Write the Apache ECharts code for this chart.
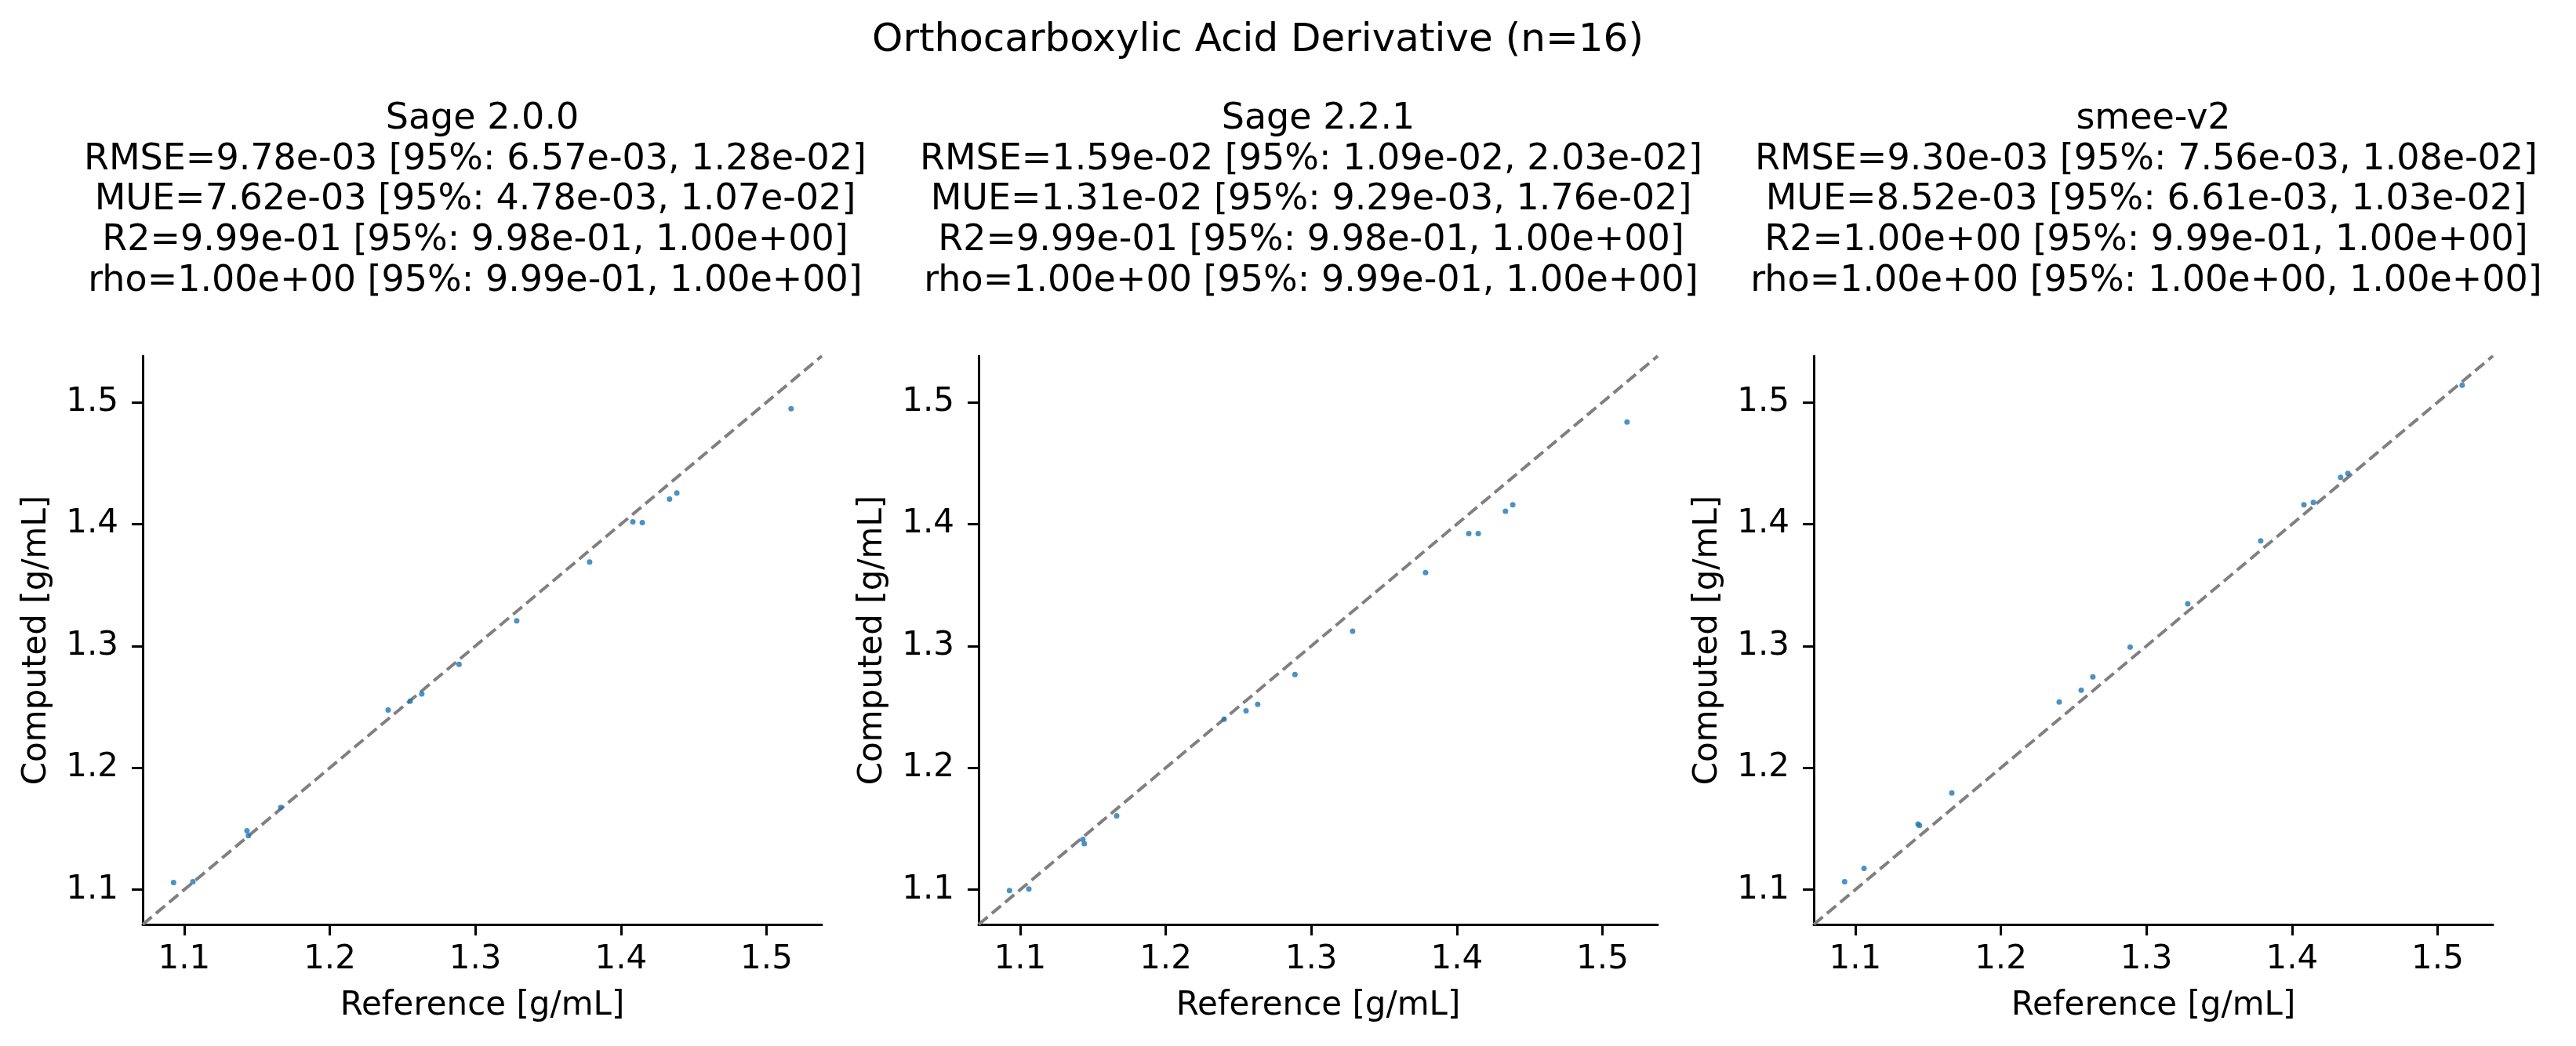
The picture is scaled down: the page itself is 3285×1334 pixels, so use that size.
<!DOCTYPE html>
<html>
<head>
<meta charset="utf-8">
<script src="https://cdn.jsdelivr.net/npm/echarts@6/dist/echarts.min.js"></script>
<style>
  body { margin: 0; background: #fff; }
  #main { width: 3285px; height: 1334px; }
</style>
</head>
<body>
<div id="main"></div>
<script>
// reference densities (same for all panels)
var reference = [1.0927, 1.1060, 1.1431, 1.1441, 1.1663, 1.2401, 1.2552, 1.2632,
  1.2888, 1.3284, 1.3785, 1.4082, 1.4147, 1.4334, 1.4384, 1.5169];
// computed densities per force field
var sage200 = [1.1060, 1.1066, 1.1484, 1.1444, 1.1675, 1.2475, 1.2547, 1.2606,
  1.2850, 1.3206, 1.3690, 1.4019, 1.4013, 1.4206, 1.4256, 1.4947];
var sage221 = [1.0994, 1.1006, 1.1413, 1.1378, 1.1606, 1.2400, 1.2469, 1.2522,
  1.2766, 1.3122, 1.3603, 1.3922, 1.3922, 1.4106, 1.4159, 1.4838];
var smeeV2 = [1.1066, 1.1175, 1.1538, 1.1528, 1.1794, 1.2541, 1.2638, 1.2747,
  1.2991, 1.3347, 1.3863, 1.4159, 1.4178, 1.4384, 1.4416, 1.5141];

var tickValues = [1.1, 1.2, 1.3, 1.4, 1.5];
var axisMin = 1.0715;
var axisMax = 1.538;

var suptitle = "Orthocarboxylic Acid Derivative (n=16)";
var panelNames = ["Sage 2.0.0", "Sage 2.2.1", "smee-v2"];
var panelStats = [
  "RMSE=9.78e-03 [95%: 6.57e-03, 1.28e-02]\nMUE=7.62e-03 [95%: 4.78e-03, 1.07e-02]\nR2=9.99e-01 [95%: 9.98e-01, 1.00e+00]\nrho=1.00e+00 [95%: 9.99e-01, 1.00e+00]",
  "RMSE=1.59e-02 [95%: 1.09e-02, 2.03e-02]\nMUE=1.31e-02 [95%: 9.29e-03, 1.76e-02]\nR2=9.99e-01 [95%: 9.98e-01, 1.00e+00]\nrho=1.00e+00 [95%: 9.99e-01, 1.00e+00]",
  "RMSE=9.30e-03 [95%: 7.56e-03, 1.08e-02]\nMUE=8.52e-03 [95%: 6.61e-03, 1.03e-02]\nR2=1.00e+00 [95%: 9.99e-01, 1.00e+00]\nrho=1.00e+00 [95%: 1.00e+00, 1.00e+00]"
];
var panelData = [sage200, sage221, smeeV2];

var FONT = "DejaVu Sans";
var panelLeft = [182, 1248, 2313];
var panelW = 866;
var panelTop = 454;
var panelH = 725;
var titleLine = 51.7;

var chart = echarts.init(document.getElementById("main"));

var grids = [], xAxes = [], yAxes = [], series = [], graphics = [];

function axisCommon(name) {
  return {
    type: "value",
    min: axisMin,
    max: axisMax,
    name: name,
    nameLocation: "middle",
    nameTextStyle: { fontFamily: FONT, fontSize: 42, color: "#000" },
    splitLine: { show: false },
    axisLine: { show: true, lineStyle: { color: "#000", width: 3 } },
    axisTick: {
      show: true, length: 14, inside: false,
      customValues: tickValues,
      lineStyle: { color: "#000", width: 3 }
    },
    axisLabel: {
      show: true,
      customValues: tickValues,
      fontFamily: FONT, fontSize: 42, color: "#000",
      formatter: function (v) { return v.toFixed(1); }
    }
  };
}

for (var i = 0; i < 3; i++) {
  grids.push({ left: panelLeft[i], top: panelTop, width: panelW, height: panelH });

  var xa = axisCommon("Reference [g/mL]");
  xa.gridIndex = i;
  xa.nameGap = 83;
  xa.axisLabel.margin = 24;
  xAxes.push(xa);

  var ya = axisCommon("Computed [g/mL]");
  ya.gridIndex = i;
  ya.nameGap = 114;
  ya.nameRotate = 90;
  ya.axisLabel.margin = 31;
  yAxes.push(ya);

  // y = x reference line
  series.push({
    type: "line",
    xAxisIndex: i, yAxisIndex: i,
    data: [[axisMin, axisMin], [axisMax, axisMax]],
    symbol: "none",
    silent: true,
    z: 2,
    lineStyle: { color: "#808080", width: 4, type: [15, 7] }
  });

  var pts = [];
  for (var k = 0; k < reference.length; k++) {
    pts.push([reference[k], panelData[i][k]]);
  }
  series.push({
    type: "scatter",
    xAxisIndex: i, yAxisIndex: i,
    data: pts,
    symbolSize: 7,
    z: 3,
    itemStyle: { color: "#1f77b4" }
  });

  // panel title: name line + stats lines
  var cx = panelLeft[i] + panelW / 2;
  graphics.push({
    type: "text",
    x: cx,
    y: 126,
    style: {
      text: panelNames[i],
      fontFamily: FONT, fontSize: 46, lineHeight: titleLine,
      fill: "#000", textAlign: "center", textVerticalAlign: "top"
    }
  });
  graphics.push({
    type: "text",
    x: cx - 9,
    y: 126 + titleLine,
    style: {
      text: panelStats[i],
      fontFamily: FONT, fontSize: 46, lineHeight: titleLine,
      fill: "#000", textAlign: "center", textVerticalAlign: "top"
    }
  });
}

graphics.push({
  type: "text",
  x: 1604,
  y: 52,
  style: {
    text: suptitle,
    fontFamily: FONT,
    fontSize: 50,
    fill: "#000",
    textAlign: "center",
    textVerticalAlign: "middle"
  }
});

chart.setOption({
  animation: false,
  backgroundColor: "#fff",
  grid: grids,
  xAxis: xAxes,
  yAxis: yAxes,
  series: series,
  graphic: graphics
});
</script>
</body>
</html>
